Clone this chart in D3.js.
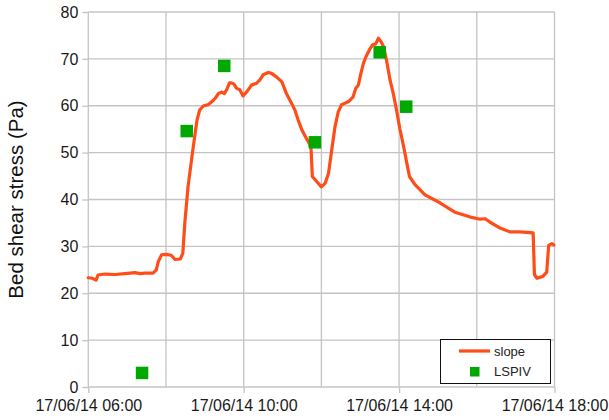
<!DOCTYPE html>
<html>
<head>
<meta charset="utf-8">
<script src="https://cdn.jsdelivr.net/npm/d3@7"></script>
<style>
  html, body { margin: 0; padding: 0; background: #fff; }
  svg { display: block; font-family: "Liberation Sans", Arial, sans-serif; }
</style>
</head>
<body>
<svg id="chart" width="609" height="420"></svg>
<script>
// ---- data ----
const slopeTimes = ["06:00","06:06","06:12","06:15","06:26","06:41","06:57","07:12","07:20","07:28","07:40","07:45","07:48","07:53","08:00","08:08","08:14","08:22","08:26","08:29","08:34","08:40","08:45","08:48","08:52","08:58","09:05","09:11","09:16","09:21","09:26","09:30","09:34","09:38","09:41","09:45","09:49","09:54","09:59","10:05","10:12","10:20","10:25","10:30","10:38","10:43","10:51","10:59","11:06","11:14","11:19","11:24","11:30","11:35","11:41","11:44","11:46","11:53","12:00","12:06","12:11","12:16","12:21","12:26","12:31","12:36","12:42","12:49","12:53","12:57","13:01","13:05","13:09","13:14","13:19","13:24","13:28","13:32","13:36","13:41","13:46","13:51","13:56","14:01","14:07","14:12","14:16","14:25","14:40","15:03","15:26","15:49","16:05","16:13","16:20","16:36","16:51","17:07","17:27","17:29","17:33","17:42","17:48","17:51","17:56","17:59"];
const slopeValues = [23.3,23.2,22.8,23.9,24.1,24.0,24.2,24.4,24.2,24.3,24.3,25.0,26.7,28.2,28.3,28.1,27.2,27.3,28.5,34.9,42.7,49.1,54.1,57.0,59.1,60.0,60.2,60.9,61.6,62.6,62.9,62.6,63.5,64.9,64.9,64.6,63.7,63.4,62.1,63.0,64.4,64.8,65.5,66.6,67.1,66.9,66.1,65.1,62.6,60.5,59.1,57.0,54.8,53.5,52.0,50.9,44.9,43.8,42.7,43.5,45.6,50.6,55.5,58.7,60.2,60.5,60.9,61.9,63.7,64.4,66.9,69.1,70.5,71.9,73.0,73.2,74.4,73.7,72.6,69.4,65.5,62.6,59.1,55.2,51.3,47.7,44.9,43.1,41.0,39.3,37.3,36.3,35.8,35.9,35.2,33.9,33.1,33.1,32.9,24.0,23.2,23.6,24.5,30.2,30.6,30.3];

const lspivTimes = ["07:23","08:32","09:30","11:50","13:30","14:11"];
const lspivValues = [3.0, 54.6, 68.5, 52.2, 71.4, 59.8];

const yTicks = [0,10,20,30,40,50,60,70,80];
const xGridTimes = ["06:00","08:00","10:00","12:00","14:00","16:00","18:00"];
const xLabelTimes = ["06:00","10:00","14:00","18:00"];
const datePrefix = "17/06/14";
const yTitle = "Bed shear stress (Pa)";
const seriesNames = ["slope","LSPIV"];

// ---- setup ----
const parse = s => { const [h,m] = s.split(":").map(Number); return new Date(2014,5,17,h,m); };
const svg = d3.select("#chart");
const pL = 88.3, pR = 554.5, pT = 12, pB = 387;

const x = d3.scaleTime().domain([parse("06:00"), parse("18:00")]).range([pL, pR]);
const y = d3.scaleLinear().domain([0,80]).range([pB, pT]);

const gridColor = "#c4c4c4";

// horizontal grid
svg.append("g").selectAll("line").data(yTicks).join("line")
  .attr("x1", pL).attr("x2", pR)
  .attr("y1", d => y(d)).attr("y2", d => y(d))
  .attr("stroke", gridColor).attr("stroke-width", 1.3);

// vertical grid
svg.append("g").selectAll("line").data(xGridTimes).join("line")
  .attr("x1", d => x(parse(d))).attr("x2", d => x(parse(d)))
  .attr("y1", pT).attr("y2", pB)
  .attr("stroke", gridColor).attr("stroke-width", 1.3);

// y axis
const yAxis = d3.axisLeft(y).tickValues(yTicks).tickSize(6).tickPadding(4);
const gy = svg.append("g").attr("transform", `translate(${pL},0)`).call(yAxis);
gy.select(".domain").remove();
gy.selectAll(".tick line").attr("stroke", gridColor).attr("stroke-width", 1.3);
gy.selectAll(".tick text").attr("font-size", 16).attr("fill", "#1a1a1a")
  .attr("font-family", "Liberation Sans, Arial, sans-serif");

// x axis
const xAxis = d3.axisBottom(x).tickValues(xLabelTimes.map(parse)).tickSize(6).tickPadding(7)
  .tickFormat(d => datePrefix + " " + d3.timeFormat("%H:%M")(d));
const gx = svg.append("g").attr("transform", `translate(0,${pB})`).call(xAxis);
gx.select(".domain").remove();
gx.selectAll(".tick line").attr("stroke", gridColor).attr("stroke-width", 1.3);
gx.selectAll(".tick text").attr("font-size", 16).attr("fill", "#1a1a1a")
  .attr("font-family", "Liberation Sans, Arial, sans-serif");

// y title
svg.append("text")
  .attr("transform", `translate(23,${(pT+pB)/2}) rotate(-90)`)
  .attr("text-anchor", "middle")
  .attr("font-size", 20.5)
  .attr("fill", "#111")
  .text(yTitle);

// slope line
const slopeData = slopeTimes.map((t,i) => ({t: parse(t), v: slopeValues[i]}));
svg.append("path").datum(slopeData)
  .attr("fill", "none").attr("stroke", "#ff4d1a").attr("stroke-width", 3.2)
  .attr("stroke-linejoin", "round").attr("stroke-linecap", "round")
  .attr("d", d3.line().x(d => x(d.t)).y(d => y(d.v)));

// LSPIV squares
const lsz = 12.5;
const lspivData = lspivTimes.map((t,i) => ({t: parse(t), v: lspivValues[i]}));
svg.append("g").selectAll("rect").data(lspivData).join("rect")
  .attr("x", d => x(d.t) - lsz/2).attr("y", d => y(d.v) - lsz/2)
  .attr("width", lsz).attr("height", lsz)
  .attr("fill", "#00a800");

// legend
const lg = svg.append("g");
lg.append("rect").attr("x", 440.5).attr("y", 339.5).attr("width", 110).attr("height", 44)
  .attr("fill", "#fff").attr("stroke", "#111").attr("stroke-width", 1);
lg.append("line").attr("x1", 459).attr("x2", 490).attr("y1", 351).attr("y2", 351)
  .attr("stroke", "#ff4d1a").attr("stroke-width", 3.2);
lg.append("text").attr("x", 494).attr("y", 355.5).attr("font-size", 13).attr("fill", "#222").text(seriesNames[0]);
lg.append("rect").attr("x", 470).attr("y", 367).attr("width", 9.5).attr("height", 9.5).attr("fill", "#00a800");
lg.append("text").attr("x", 494).attr("y", 376).attr("font-size", 13).attr("fill", "#222").text(seriesNames[1]);
</script>
</body>
</html>
